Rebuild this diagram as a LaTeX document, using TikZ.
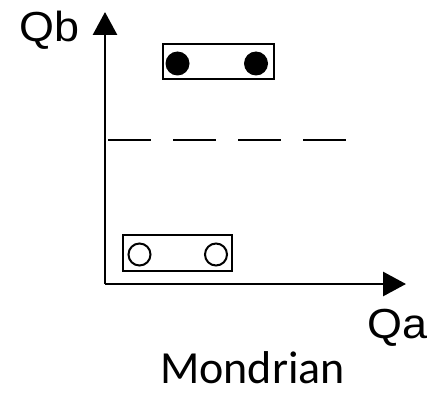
\documentclass[tikz,border=0pt]{standalone}
\usepackage{fontspec}
\setmainfont{Liberation Sans}
\newfontfamily\capfont{Carlito}
\usetikzlibrary{arrows.meta}
\newcommand{\widelabel}[1]{\scalebox{1.07}[1]{#1}}
\begin{document}
\begin{tikzpicture}[x=1pt,y=-1pt,
  axis/.style={line width=2.9pt,-{Triangle[length=23pt,width=24pt]}},
  pairbox/.style={draw,line width=2.3pt,rectangle,inner sep=0pt},
  fullpt/.style={circle,fill=black,inner sep=0pt,minimum size=24pt},
  emptypt/.style={circle,draw,line width=2pt,inner sep=0pt,minimum size=22pt},
  axlabel/.style={inner sep=0pt,font=\fontsize{42}{42}\selectfont},
  caption/.style={inner sep=0pt,text depth=0pt,font=\capfont\fontsize{46}{46}\selectfont},
  split/.style={line width=2.9pt,dash pattern=on 43pt off 22pt}]
  \useasboundingbox (0,0) rectangle (433,393);

  % axes
  \coordinate (origin) at (105,284);
  \coordinate (ytip) at (105,12);
  \coordinate (xtip) at (406,284);
  \draw[axis] (origin) -- (ytip);
  \draw[axis] (origin) -- (xtip);

  \node[axlabel,anchor=base west] (qb) at (19,42) {\widelabel{Qb}};
  \node[axlabel,anchor=base west] (qa) at (367,338) {\widelabel{Qa}};
  \node[caption,anchor=base] (title) at (252.5,383) {Mondrian};

  % threshold
  \coordinate (dl) at (108,140);
  \coordinate (dr) at (348,140);
  \draw[split] (dl) -- (dr);

  % upper pair
  \node[pairbox,minimum width=111pt,minimum height=35pt] (upper) at (218.5,61.5) {};
  \node[fullpt] (u1) at (177.5,63.5) {};
  \node[fullpt] (u2) at (256,63.5) {};

  % lower pair
  \node[pairbox,minimum width=109pt,minimum height=36pt] (lower) at (177.5,253) {};
  \node[emptypt] (l1) at (139.5,254.5) {};
  \node[emptypt] (l2) at (216,254.5) {};
\end{tikzpicture}
\end{document}
